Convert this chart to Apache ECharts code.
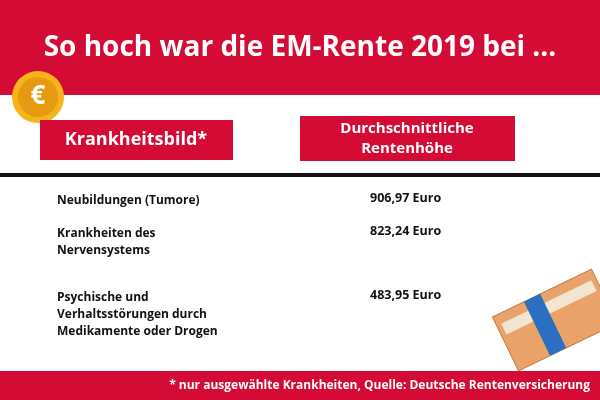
<!DOCTYPE html>
<html><head><meta charset="utf-8">
<script src="https://cdn.jsdelivr.net/npm/echarts@6/dist/echarts.min.js"></script>
<style>html,body{margin:0;padding:0;background:#fff}#c{width:600px;height:400px}</style>
</head><body><div id="c"></div>
<script>
const title = 'So hoch war die EM-Rente 2019 bei ...';
const headers = ['Krankheitsbild*', 'Durchschnittliche\nRentenhöhe'];
const categories = ['Neubildungen (Tumore)', 'Krankheiten des\nNervensystems', 'Psychische und\nVerhaltsstörungen durch\nMedikamente oder Drogen'];
const values = [906.97, 823.24, 483.95];
const rowY = [192, 225, 289];
const footnote = '* nur ausgewählte Krankheiten, Quelle: Deutsche Rentenversicherung';
const RED = '#d40b34';
const F = '"Open Sans", sans-serif';
const fmt = v => v.toFixed(2).replace('.', ',') + ' Euro';
const chart = echarts.init(document.getElementById('c'));
const els = [
  {type:'rect', shape:{x:0,y:0,width:600,height:95}, style:{fill:RED}},
  {type:'text', style:{text:title, x:300, y:48, align:'center', verticalAlign:'middle', fill:'#fff', font:'bold 28px '+F}},
  {type:'circle', shape:{cx:38,cy:97,r:26}, style:{fill:'#f4b41a'}},
  {type:'circle', shape:{cx:38,cy:97,r:20}, style:{fill:'#e59a12'}},
  {type:'text', style:{text:'€', x:38, y:97, align:'center', verticalAlign:'middle', fill:'#fff', font:'bold 26px '+F}},
  {type:'rect', shape:{x:40,y:120,width:193,height:40}, style:{fill:RED}},
  {type:'text', style:{text:headers[0], x:136, y:140, align:'center', verticalAlign:'middle', fill:'#fff', font:'bold 18px '+F}},
  {type:'rect', shape:{x:300,y:116,width:215,height:45}, style:{fill:RED}},
  {type:'text', style:{text:headers[1], x:407, y:139, align:'center', verticalAlign:'middle', fill:'#fff', font:'bold 15px '+F, lineHeight:20}},
  {type:'rect', shape:{x:0,y:173,width:600,height:4}, style:{fill:'#111'}},
  {type:'rect', shape:{x:0,y:371,width:600,height:29}, style:{fill:RED}},
  {type:'text', style:{text:footnote, x:590, y:386, align:'right', verticalAlign:'middle', fill:'#fff', font:'bold 12px '+F}},
  {type:'rect', shape:{x:500,y:290,width:110,height:60}, rotation:0.45, originX:555, originY:320, style:{fill:'#e9a36a', stroke:'#c97a45'}},
  {type:'rect', shape:{x:505,y:300,width:100,height:12}, rotation:0.45, originX:555, originY:320, style:{fill:'#f2e6d0'}},
  {type:'rect', shape:{x:535,y:290,width:18,height:60}, rotation:0.45, originX:555, originY:320, style:{fill:'#2a6fc0'}}
];
categories.forEach((c,i)=>{
  els.push({type:'text', style:{text:c, x:57, y:rowY[i], verticalAlign:'top', fill:'#111', font:'bold 12px '+F, lineHeight:17}});
  els.push({type:'text', style:{text:fmt(values[i]), x:370, y:rowY[i], verticalAlign:'top', fill:'#111', font:'bold 12.5px '+F}});
});
chart.setOption({animation:false, graphic:{elements:els}});
</script></body></html>
